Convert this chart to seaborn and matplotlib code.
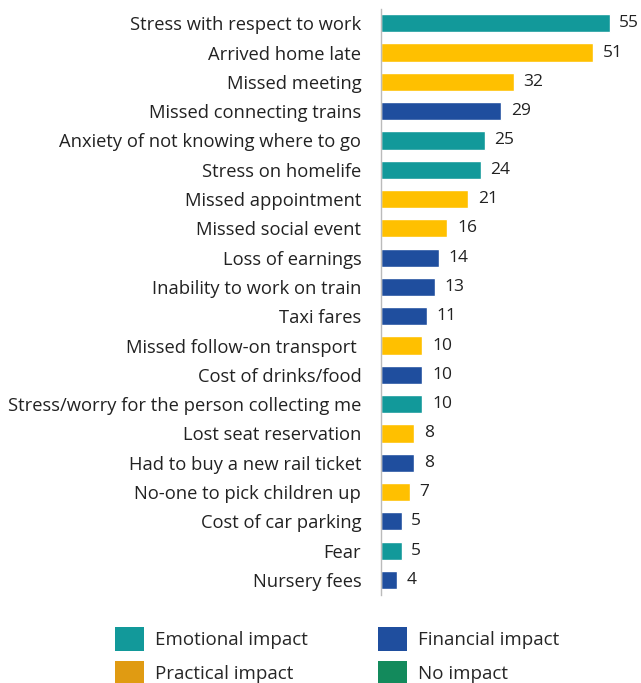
import matplotlib
matplotlib.use("Agg")
import matplotlib.pyplot as plt
from matplotlib.patches import Patch
import seaborn as sns
import pandas as pd

# Impacts of a delayed journey, share of respondents (%)
impacts = [
    "Stress with respect to work", "Arrived home late", "Missed meeting",
    "Missed connecting trains", "Anxiety of not knowing where to go",
    "Stress on homelife", "Missed appointment", "Missed social event",
    "Loss of earnings", "Inability to work on train", "Taxi fares",
    "Missed follow-on transport ", "Cost of drinks/food",
    "Stress/worry for the person collecting me", "Lost seat reservation",
    "Had to buy a new rail ticket", "No-one to pick children up",
    "Cost of car parking", "Fear", "Nursery fees",
]
values = [55, 51, 32, 29, 25, 24, 21, 16, 14, 13, 11, 10, 10, 10, 8, 8, 7, 5, 5, 4]
impact_type = [
    "Emotional", "Practical", "Practical", "Financial", "Emotional",
    "Emotional", "Practical", "Practical", "Financial", "Financial",
    "Financial", "Practical", "Financial", "Emotional", "Practical",
    "Financial", "Practical", "Financial", "Emotional", "Financial",
]
legend_labels = ["Emotional impact", "Practical impact", "Financial impact", "No impact"]

bar_colors = {"Emotional": "#12999A", "Practical": "#FFC000", "Financial": "#1F4E9E"}
legend_colors = ["#12999A", "#E09B12", "#1F4E9E", "#138A5C"]

df = pd.DataFrame({"impact": impacts, "value": values, "type": impact_type})

sns.set_style("white")
plt.rcParams["font.family"] = ["Open Sans", "DejaVu Sans"]

fig = plt.figure(figsize=(6.41, 6.83), dpi=100)
ax = fig.add_axes([0.594, 0.1294, 0.4025, 0.858])

sns.barplot(data=df, y="impact", x="value", hue="type", palette=bar_colors,
            dodge=False, width=0.62, legend=False, ax=ax, saturation=1)

for cont in ax.containers:
    ax.bar_label(cont, fmt="%g", padding=7, fontsize=12.5, color="#222222")

ax.set_xlim(0, 62)
ax.set_ylim(19.5, -0.5)
ax.set_xlabel("")
ax.set_ylabel("")
ax.set_xticks([])
ax.tick_params(axis="y", length=0, pad=14, labelsize=13.2, labelcolor="#222222")
for side in ["top", "right", "bottom"]:
    ax.spines[side].set_visible(False)
ax.spines["left"].set_color("#BBBBBB")
ax.spines["left"].set_linewidth(1.0)

handles = [Patch(facecolor=c, edgecolor="none") for c in legend_colors]
fig.legend(handles, legend_labels, ncol=2, loc="upper left",
           bbox_to_anchor=(0.165, 0.095), frameon=False, fontsize=13.5,
           handlelength=1.55, handleheight=1.55, handletextpad=0.6,
           columnspacing=3.7, labelspacing=0.55, borderpad=0)

fig.savefig("out.png", dpi=100)
